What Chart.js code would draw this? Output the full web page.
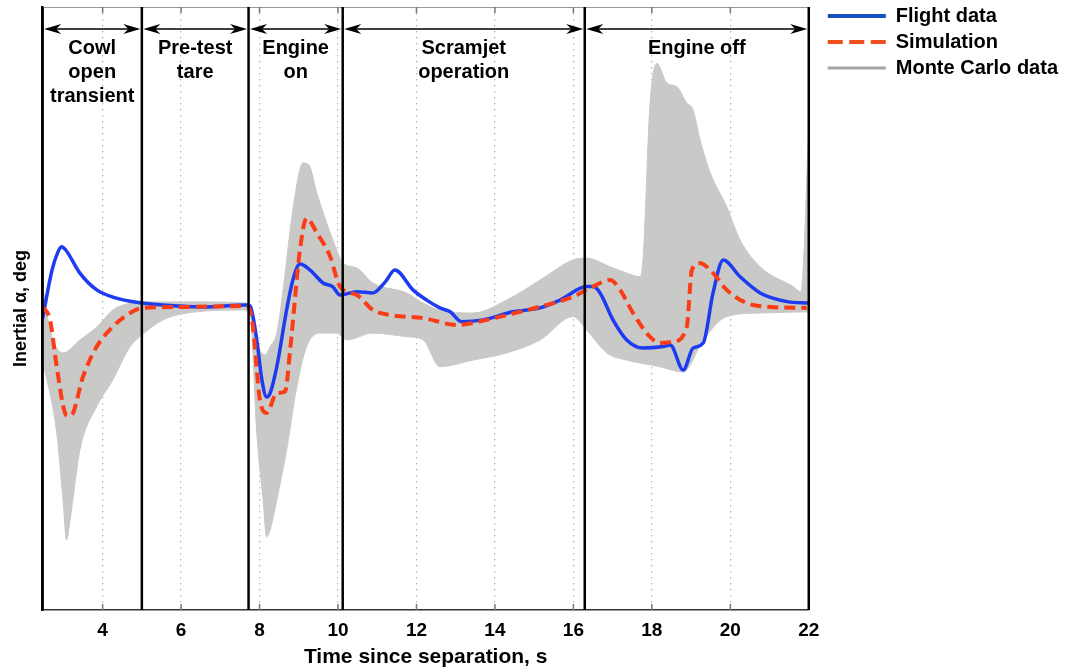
<!DOCTYPE html>
<html>
<head>
<meta charset="utf-8">
<title>Inertial alpha vs time since separation</title>
<script src="https://cdn.jsdelivr.net/npm/chart.js@4.4.1/dist/chart.umd.min.js"></script>
<style>
  html, body { margin: 0; padding: 0; background: #fff; }
</style>
</head>
<body>
<canvas id="alphaChart" width="1079" height="671"></canvas>
<script>
// x axis (time since separation, s)
const xMin = 2.47;
const xMax = 22;
const xTickValues = [4, 6, 8, 10, 12, 14, 16, 18, 20, 22];

// y axis has no numbers in the figure, values are in arbitrary deg units
const yMin = -10.1;
const yMax = 10;

// flight phases
const phaseEdges = [2.47, 5.0, 7.72, 10.12, 16.29, 22];
const phaseLabels = [
  ['Cowl', 'open', 'transient'],
  ['Pre-test', 'tare'],
  ['Engine', 'on'],
  ['Scramjet', 'operation'],
  ['Engine off']
];

// Flight data (blue)
const flightT = [2.47, 2.71, 2.86, 2.955, 3.06, 3.42, 3.85, 4.26, 4.95, 5.97, 6.56, 7.67, 7.76, 7.93, 8.06, 8.18, 8.27, 8.44, 8.69, 8.85, 9.03, 9.29, 9.62, 9.87, 10.05, 10.48, 10.89, 11.2, 11.45, 11.91, 12.26, 12.6, 12.86, 13.15, 13.7, 14.46, 15.15, 15.66, 16.34, 16.5, 16.68, 17.01, 17.36, 17.78, 18.29, 18.47, 18.8, 19.05, 19.31, 19.56, 19.82, 20.25, 20.76, 21.45, 22];
const flightAlpha = [-0.38, 1.23, 1.83, 2.01, 1.9, 1.13, 0.57, 0.33, 0.14, 0.03, 0, 0.07, 0.03, -1.1, -2.43, -3.0, -2.87, -1.99, -0.1, 0.9, 1.43, 1.23, 0.8, 0.67, 0.4, 0.51, 0.47, 0.83, 1.23, 0.57, 0.23, -0.03, -0.16, -0.49, -0.43, -0.16, -0.03, 0.23, 0.68, 0.68, 0.47, -0.43, -1.1, -1.37, -1.32, -1.27, -2.1, -1.37, -1.2, 0.47, 1.57, 1.01, 0.47, 0.18, 0.13];

// Simulation (red dashed)
const simT = [2.47, 2.66, 2.83, 3.04, 3.12, 3.21, 3.5, 3.85, 4.26, 4.7, 5.03, 5.97, 7.67, 7.81, 8.01, 8.18, 8.44, 8.65, 8.78, 9.03, 9.2, 9.46, 9.8, 10.05, 10.48, 10.89, 11.33, 12.17, 13.03, 13.44, 14.3, 15.15, 15.99, 16.5, 16.94, 17.19, 17.52, 17.95, 18.2, 18.54, 18.89, 19.02, 19.23, 19.56, 19.91, 20.42, 20.93, 21.95];
const simAlpha = [0.01, -0.43, -1.99, -3.53, -3.63, -3.6, -2.32, -1.32, -0.66, -0.2, -0.03, 0, 0.03, -0.43, -3.1, -3.53, -2.87, -2.82, -1.43, 1.9, 2.96, 2.47, 1.68, 0.68, 0.4, -0.1, -0.27, -0.37, -0.6, -0.53, -0.27, 0.01, 0.34, 0.68, 0.9, 0.57, -0.2, -0.99, -1.2, -1.16, -0.66, 1.23, 1.46, 1.13, 0.57, 0.13, 0.01, -0.03];

// Monte Carlo data, upper and lower edge of the spread
const mcUpperT = [2.47, 2.66, 2.99, 3.42, 3.85, 4.26, 4.7, 4.95, 6.48, 7.65, 7.8, 7.96, 8.14, 8.27, 8.44, 8.6, 8.86, 9.11, 9.26, 9.46, 9.87, 10.13, 10.48, 10.89, 11.75, 12.17, 12.6, 13.44, 14.3, 15.15, 15.99, 16.34, 16.94, 17.36, 17.7, 17.78, 17.95, 18.13, 18.38, 18.64, 18.89, 19.05, 19.23, 19.49, 19.91, 20.25, 20.76, 21.6, 21.8, 22];
const mcUpper = [0.73, -0.77, -1.53, -1.1, -0.67, -0.1, 0.13, 0.17, 0.17, 0.13, -0.1, -1.27, -1.6, -1.32, -0.87, 0.57, 3.34, 4.8, 4.73, 3.8, 2.23, 1.47, 1.3, 0.8, 0.47, 0.13, -0.1, -0.2, 0.23, 0.9, 1.57, 1.63, 1.34, 1.13, 1.01, 1.68, 6.68, 8.12, 7.47, 7.34, 6.8, 6.57, 5.57, 4.47, 3.34, 2.23, 1.34, 0.68, 0.5, 5.9];
const mcLowerT = [2.47, 2.83, 2.99, 3.08, 3.17, 3.24, 3.42, 3.85, 4.26, 4.7, 4.95, 5.54, 6.4, 7.58, 7.76, 7.93, 8.09, 8.18, 8.27, 8.44, 8.69, 8.95, 9.2, 9.54, 9.97, 10.22, 10.89, 11.75, 12.17, 12.6, 13.44, 14.3, 15.15, 15.99, 16.34, 16.85, 17.36, 18.2, 18.8, 19.31, 19.91, 20.76, 22];
const mcLower = [-1.77, -4.2, -6.43, -7.77, -7.1, -6.43, -4.77, -3.32, -2.43, -1.32, -0.99, -0.43, -0.16, -0.1, -0.27, -4.2, -6.43, -7.66, -7.43, -6.43, -4.77, -2.66, -1.32, -0.87, -0.87, -1.1, -0.87, -0.99, -1.1, -1.99, -1.77, -1.53, -1.1, -0.32, -0.77, -1.53, -1.77, -1.99, -2.17, -1.1, -0.32, -0.2, -0.16];

const FONT = '"Liberation Sans", Arial, Helvetica, sans-serif';
const BLUE = '#1d3cf2';
const RED = '#fb3c16';
const GRAY_FILL = '#c9c9c7';

const toPoints = (ts, vs) => ts.map((t, i) => ({ x: t, y: vs[i] }));

Chart.defaults.font.family = FONT;
Chart.defaults.color = '#000';

// phase boundaries, arrows, labels and inward ticks on top of the data
const phasePlugin = {
  id: 'phases',
  afterDatasetsDraw(chart) {
    const { ctx, chartArea: { top, bottom, left, right }, scales: { x } } = chart;
    ctx.save();

    // thin top frame
    ctx.strokeStyle = '#999';
    ctx.lineWidth = 1;
    ctx.beginPath();
    ctx.moveTo(left, top + 0.5);
    ctx.lineTo(right, top + 0.5);
    ctx.stroke();

    // small inward tick marks at top and bottom
    ctx.strokeStyle = '#777';
    ctx.lineWidth = 1.5;
    xTickValues.forEach(v => {
      const px = x.getPixelForValue(v);
      ctx.beginPath();
      ctx.moveTo(px, bottom);
      ctx.lineTo(px, bottom - 6);
      ctx.moveTo(px, top);
      ctx.lineTo(px, top + 6);
      ctx.stroke();
    });

    // black boundaries between the phases
    ctx.strokeStyle = '#000';
    ctx.lineWidth = 2.5;
    phaseEdges.forEach(v => {
      const px = x.getPixelForValue(v);
      ctx.beginPath();
      ctx.moveTo(px, top);
      ctx.lineTo(px, bottom);
      ctx.stroke();
    });

    // double arrows
    const ay = top + 22;
    const head = (tipX, dir) => {
      ctx.beginPath();
      ctx.moveTo(tipX, ay);
      ctx.lineTo(tipX + dir * 17, ay - 5);
      ctx.lineTo(tipX + dir * 12, ay);
      ctx.lineTo(tipX + dir * 17, ay + 5);
      ctx.closePath();
      ctx.fill();
    };
    ctx.fillStyle = '#000';
    ctx.lineWidth = 1.5;
    for (let i = 0; i < phaseEdges.length - 1; i++) {
      const x1 = x.getPixelForValue(phaseEdges[i]) + 1.5;
      const x2 = x.getPixelForValue(phaseEdges[i + 1]) - 1.5;
      ctx.beginPath();
      ctx.moveTo(x1 + 5, ay);
      ctx.lineTo(x2 - 5, ay);
      ctx.stroke();
      head(x1, 1);
      head(x2, -1);
    }

    // phase names
    ctx.font = 'bold 20px ' + FONT;
    ctx.textAlign = 'center';
    ctx.textBaseline = 'alphabetic';
    phaseLabels.forEach((lines, i) => {
      const cx = (x.getPixelForValue(phaseEdges[i]) + x.getPixelForValue(phaseEdges[i + 1])) / 2;
      lines.forEach((s, j) => ctx.fillText(s, cx, top + 47 + j * 24));
    });

    ctx.restore();
  }
};

const legendItems = [
  { text: 'Flight data', strokeStyle: '#1450c0', fillStyle: '#1450c0', lineWidth: 4, lineDash: [], pointStyle: 'line', fontColor: '#000', hidden: false },
  { text: 'Simulation', strokeStyle: '#f0501e', fillStyle: '#f0501e', lineWidth: 4, lineDash: [15, 6.5], pointStyle: 'line', fontColor: '#000', hidden: false },
  { text: 'Monte Carlo data', strokeStyle: '#a6a6a6', fillStyle: '#a6a6a6', lineWidth: 3, lineDash: [], pointStyle: 'line', fontColor: '#000', hidden: false }
];

new Chart(document.getElementById('alphaChart'), {
  type: 'line',
  data: {
    datasets: [
      {
        label: 'Flight data',
        data: toPoints(flightT, flightAlpha),
        borderColor: BLUE,
        borderWidth: 3.5,
        pointRadius: 0,
        cubicInterpolationMode: 'monotone',
        fill: false,
        order: 1
      },
      {
        label: 'Simulation',
        data: toPoints(simT, simAlpha),
        borderColor: RED,
        borderWidth: 4,
        borderDash: [11, 6],
        pointRadius: 0,
        cubicInterpolationMode: 'monotone',
        fill: false,
        order: 0
      },
      {
        label: 'Monte Carlo data',
        data: toPoints(mcUpperT, mcUpper),
        borderColor: GRAY_FILL,
        backgroundColor: GRAY_FILL,
        borderWidth: 1,
        pointRadius: 0,
        cubicInterpolationMode: 'monotone',
        fill: '+1',
        order: 2
      },
      {
        label: 'Monte Carlo lower',
        data: toPoints(mcLowerT, mcLower),
        borderColor: GRAY_FILL,
        borderWidth: 1,
        pointRadius: 0,
        cubicInterpolationMode: 'monotone',
        fill: false,
        order: 3
      }
    ]
  },
  options: {
    responsive: false,
    animation: false,
    devicePixelRatio: 1,
    layout: { padding: { left: 0, right: 11, top: 0, bottom: 0 } },
    scales: {
      x: {
        type: 'linear',
        position: 'bottom',
        min: xMin,
        max: xMax,
        afterBuildTicks: axis => { axis.ticks = xTickValues.map(v => ({ value: v })); },
        afterFit: s => { s.height = 61; },
        grid: { color: '#b4b4b4', lineWidth: 1.2, drawTicks: false },
        border: { color: '#333', width: 1.5, dash: [1.5, 4.5] },
        ticks: { padding: 9, color: '#000', font: { size: 19, weight: 'bold' }, maxRotation: 0 },
        title: {
          display: true,
          text: 'Time since separation, s',
          color: '#000',
          font: { size: 21, weight: 'bold' },
          padding: { top: 3, bottom: 1 }
        }
      },
      xTop: {
        type: 'linear',
        position: 'top',
        grid: { display: false, drawTicks: false },
        border: { display: false },
        ticks: { display: false },
        afterFit: s => { s.height = 7; }
      },
      y: {
        type: 'linear',
        position: 'left',
        min: yMin,
        max: yMax,
        grid: { display: false, drawTicks: false },
        border: { color: '#000', width: 2.5 },
        ticks: { display: false },
        title: {
          display: true,
          text: 'Inertial α, deg',
          color: '#000',
          font: { size: 18, weight: 'bold' },
          padding: { top: 10, bottom: 11 }
        }
      },
      yRight: {
        type: 'linear',
        position: 'right',
        grid: { display: false, drawTicks: false },
        border: { display: false },
        ticks: { display: false },
        afterFit: s => { s.width = 13; }
      }
    },
    plugins: {
      legend: {
        position: 'right',
        align: 'start',
        maxWidth: 300,
        labels: {
          usePointStyle: true,
          pointStyleWidth: 58,
          padding: 6,
          color: '#000',
          font: { size: 20, weight: 'bold' },
          generateLabels: () => legendItems
        }
      },
      tooltip: { enabled: false }
    }
  },
  plugins: [phasePlugin]
});
</script>
</body>
</html>
